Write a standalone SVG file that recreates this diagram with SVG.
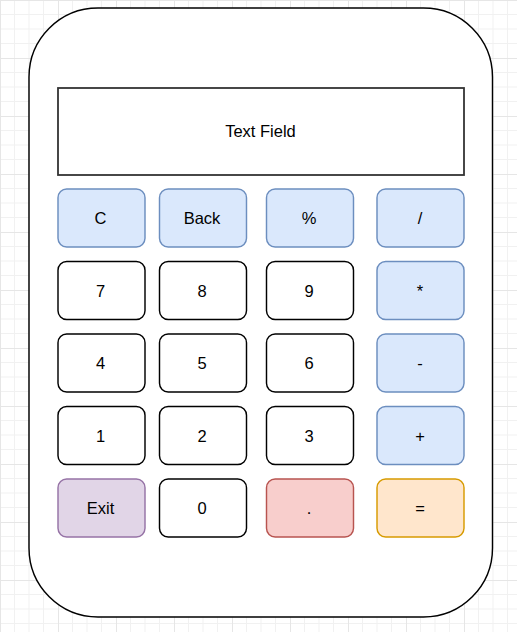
<svg xmlns="http://www.w3.org/2000/svg" width="517" height="632" viewBox="0 0 517 632">
<defs>
<pattern id="grid" x="0" y="0" width="58" height="58" patternUnits="userSpaceOnUse">
<path d="M14.5 0V58M29 0V58M43.5 0V58M0 14.5H58M0 29H58M0 43.5H58" stroke="#f1f1f1" stroke-width="1" fill="none"/>
<path d="M0.5 0V58M0 0.5H58" stroke="#e6e6e6" stroke-width="1" fill="none"/>
</pattern>
</defs>
<style>
.btn{stroke-width:1.45}
.w{fill:#ffffff;stroke:#000000}
.b{fill:#dae8fc;stroke:#6c8ebf}
.p{fill:#e1d5e7;stroke:#9673a6}
.r{fill:#f8cecc;stroke:#b85450}
.o{fill:#ffe6cc;stroke:#d79b00}
text{font-family:"Liberation Sans",Arial,Helvetica,sans-serif;font-size:16.5px;fill:#000000;text-anchor:middle}
</style>
<rect width="517" height="632" fill="#ffffff"/>
<rect width="517" height="632" fill="url(#grid)"/>
<g id="body"><rect x="29" y="8" width="463.5" height="609" rx="69" ry="69" fill="#ffffff" stroke="#000000" stroke-width="1.45"/></g>
<g id="textfield"><rect x="58" y="88" width="406" height="87" fill="#ffffff" stroke="#333333" stroke-width="1.8"/><text x="260.5" y="137.3">Text Field</text></g>
<g id="connectors"></g>
<g id="btn-c"><rect class="btn b" x="58" y="189" width="87" height="58" rx="8.7"/><text x="100.5" y="224">C</text></g>
<g id="btn-back"><rect class="btn b" x="159.5" y="189" width="87" height="58" rx="8.7"/><text x="202" y="224">Back</text></g>
<g id="btn-pct"><rect class="btn b" x="266.5" y="189" width="87" height="58" rx="8.7"/><text x="309" y="224">%</text></g>
<g id="btn-div"><rect class="btn b" x="377" y="189" width="87" height="58" rx="8.7"/><text x="420" y="224">/</text></g>
<g id="btn-7"><rect class="btn w" x="58" y="261.5" width="87" height="58" rx="8.7"/><text x="100.5" y="296.5">7</text></g>
<g id="btn-8"><rect class="btn w" x="159.5" y="261.5" width="87" height="58" rx="8.7"/><text x="202" y="296.5">8</text></g>
<g id="btn-9"><rect class="btn w" x="266.5" y="261.5" width="87" height="58" rx="8.7"/><text x="309" y="296.5">9</text></g>
<g id="btn-mul"><rect class="btn b" x="377" y="261.5" width="87" height="58" rx="8.7"/><text x="420" y="296.5">*</text></g>
<g id="btn-4"><rect class="btn w" x="58" y="334" width="87" height="58" rx="8.7"/><text x="100.5" y="369">4</text></g>
<g id="btn-5"><rect class="btn w" x="159.5" y="334" width="87" height="58" rx="8.7"/><text x="202" y="369">5</text></g>
<g id="btn-6"><rect class="btn w" x="266.5" y="334" width="87" height="58" rx="8.7"/><text x="309" y="369">6</text></g>
<g id="btn-sub"><rect class="btn b" x="377" y="334" width="87" height="58" rx="8.7"/><text x="420" y="369">-</text></g>
<g id="btn-1"><rect class="btn w" x="58" y="406.5" width="87" height="58" rx="8.7"/><text x="100.5" y="441.5">1</text></g>
<g id="btn-2"><rect class="btn w" x="159.5" y="406.5" width="87" height="58" rx="8.7"/><text x="202" y="441.5">2</text></g>
<g id="btn-3"><rect class="btn w" x="266.5" y="406.5" width="87" height="58" rx="8.7"/><text x="309" y="441.5">3</text></g>
<g id="btn-add"><rect class="btn b" x="377" y="406.5" width="87" height="58" rx="8.7"/><text x="420" y="441.5">+</text></g>
<g id="btn-exit"><rect class="btn p" x="58" y="479" width="87" height="58" rx="8.7"/><text x="100.5" y="514">Exit</text></g>
<g id="btn-0"><rect class="btn w" x="159.5" y="479" width="87" height="58" rx="8.7"/><text x="202" y="514">0</text></g>
<g id="btn-dot"><rect class="btn r" x="266.5" y="479" width="87" height="58" rx="8.7"/><text x="309" y="514">.</text></g>
<g id="btn-eq"><rect class="btn o" x="377" y="479" width="87" height="58" rx="8.7"/><text x="420" y="514">=</text></g>
</svg>
